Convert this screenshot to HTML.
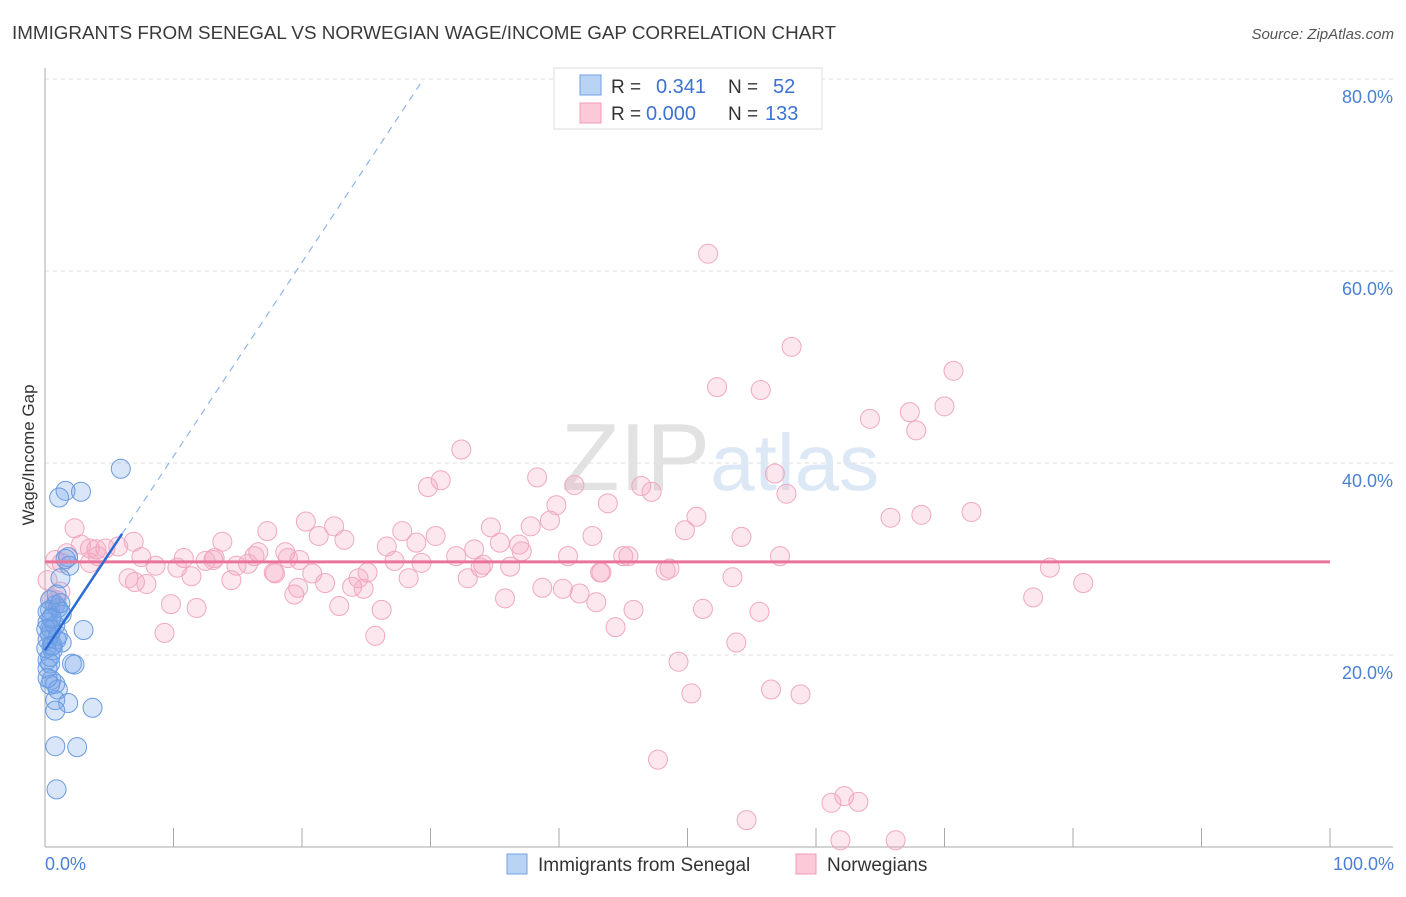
<!DOCTYPE html>
<html><head><meta charset="utf-8"><style>
body{margin:0;background:#fff;font-family:"Liberation Sans",sans-serif}
svg text{font-family:"Liberation Sans",sans-serif}
</style></head><body>
<svg width="1406" height="892" viewBox="0 0 1406 892">
<text x="12" y="39" font-size="18" fill="#3a3a3a" textLength="824" lengthAdjust="spacingAndGlyphs">IMMIGRANTS FROM SENEGAL VS NORWEGIAN WAGE/INCOME GAP CORRELATION CHART</text>
<text x="1394" y="39" font-size="15" fill="#555" font-style="italic" text-anchor="end">Source: ZipAtlas.com</text>
<g id="grid"></g>
<text x="720" y="490" font-size="96" fill="#e6e6e6" text-anchor="middle" font-family="Liberation Serif"><tspan fill="#e2e2e2">ZIP</tspan><tspan fill="#dce8f6" font-family="Liberation Sans" font-size="80">atlas</tspan></text>
<g id="axes"></g>
<g id="pink"></g>
<g id="blue"></g>
<g id="lines"></g>
<text transform="translate(34,455) rotate(-90)" font-size="17" fill="#333" text-anchor="middle">Wage/Income Gap</text>
<text x="45" y="870" font-size="18" fill="#4a7fd6">0.0%</text>
<text x="1394" y="870" font-size="18" fill="#4a7fd6" text-anchor="end">100.0%</text>
<g>
<rect x="554" y="68" width="268" height="61" fill="#fff" stroke="#ddd"/>
<rect x="580" y="75" width="21" height="20" fill="#b9d3f5" stroke="#6f9fe0"/>
<rect x="580" y="103" width="21" height="20" fill="#fcc9d8" stroke="#f09ab6"/>
<text x="611" y="93" font-size="19" fill="#333">R = </text><text x="656" y="93" font-size="20" fill="#3b72d1">0.341</text>
<text x="728" y="93" font-size="19" fill="#333">N = </text><text x="773" y="93" font-size="20" fill="#3b72d1">52</text>
<text x="611" y="120" font-size="19" fill="#333">R = </text><text x="646" y="120" font-size="20" fill="#3b72d1">0.000</text>
<text x="728" y="120" font-size="19" fill="#333">N = </text><text x="765" y="120" font-size="20" fill="#3b72d1">133</text>
</g>
<g>
<rect x="507" y="854" width="20" height="20" fill="#b9d3f5" stroke="#6f9fe0"/>
<text x="538" y="871" font-size="19" fill="#333">Immigrants from Senegal</text>
<rect x="796" y="854" width="20" height="20" fill="#fcc9d8" stroke="#f09ab6"/>
<text x="827" y="871" font-size="19" fill="#333">Norwegians</text>
</g>
</svg>
<script>
const yTicks=[20,40,60,80];
const yTickLabels=["20.0%","40.0%","60.0%","80.0%"];
const xTicks=[0,10,20,30,40,50,60,70,80,90,100];
const blueX=[5.9,1.6,2.8,1.1,1.8,1.9,1.2,0.4,1.0,0.8,0.5,0.2,0.4,0.9,1.3,0.5,3.0,0.2,0.4,2.1,2.3,0.5,0.8,1.0,0.8,1.8,3.7,0.8,0.8,2.5,0.9,0.4,0.6,0.2,1.2,0.4,0.9,0.2,0.5,0.8,0.1,0.4,1.3,0.2,0.5,1.0,0.2,1.2,0.4,0.1,1.6,0.6];
const blueY=[39.4,37.1,37.0,36.4,30.2,29.3,28.0,24.7,24.9,25.2,23.9,23.4,22.1,21.6,21.3,20.9,22.6,19.5,19.1,19.1,19.0,17.4,17.0,16.4,15.3,15.0,14.5,14.2,10.5,10.4,6.0,22.8,20.5,18.6,24.5,25.7,26.3,21.6,22.6,23.1,20.7,16.9,24.2,24.5,23.8,22.0,17.6,25.4,19.8,22.7,30.0,21.0];
const pinkX=[51.6,58.1,70.7,52.3,55.7,67.3,70.0,64.2,67.8,32.4,56.8,30.8,38.3,29.8,41.2,46.4,47.2,57.7,43.8,39.8,65.8,68.2,72.1,50.7,49.8,20.3,22.5,39.3,37.8,34.7,27.8,2.3,17.3,21.3,23.3,30.4,42.6,54.2,13.8,2.8,5.7,6.9,4.7,4.0,26.6,28.9,33.4,35.4,36.9,37.1,4.1,1.7,7.5,10.8,13.1,13.2,16.6,16.3,18.7,18.9,19.8,32.0,40.7,45.0,45.4,57.2,1.3,3.5,8.6,10.3,14.9,15.8,12.5,27.2,29.3,34.1,36.2,25.1,43.2,48.6,48.3,33.9,6.5,7.0,7.9,11.4,14.5,17.9,20.8,21.8,23.9,24.4,24.8,28.3,32.9,17.8,38.7,40.3,41.6,43.3,53.5,78.2,80.8,19.7,19.4,22.9,26.2,35.8,42.9,9.8,11.8,45.8,51.2,55.6,76.9,44.4,9.3,25.7,53.8,49.3,56.5,50.3,58.8,47.7,61.2,62.2,63.3,54.6,61.9,66.2,1.2,0.9,0.5,0.8,0.2,3.5];
const pinkY=[61.8,52.1,49.6,47.9,47.6,45.3,45.9,44.6,43.4,41.4,38.9,38.2,38.5,37.5,37.7,37.6,37.0,36.8,35.8,35.6,34.3,34.6,34.9,34.4,33.0,33.9,33.4,34.0,33.4,33.3,32.9,33.2,32.9,32.4,32.0,32.4,32.4,32.3,31.8,31.5,31.3,31.8,31.1,31.0,31.3,31.7,31.0,31.7,31.5,30.8,30.3,30.6,30.2,30.1,29.9,30.1,30.7,30.3,30.7,30.1,29.9,30.3,30.3,30.3,30.3,30.3,29.6,29.6,29.3,29.1,29.3,29.5,29.8,29.8,29.6,29.4,29.2,28.6,28.6,29.0,28.8,29.1,28.0,27.6,27.4,28.2,27.8,28.5,28.5,27.5,27.1,28.0,26.9,28.0,28.0,28.6,27.0,26.9,26.4,28.6,28.1,29.1,27.5,27.0,26.3,25.1,24.7,25.9,25.5,25.3,24.9,24.7,24.8,24.5,26.0,22.9,22.3,22.0,21.3,19.3,16.4,16.0,15.9,9.1,4.6,5.3,4.7,2.8,0.7,0.7,26.6,25.7,25.9,29.9,27.8,31.1];
const blueTrend={x0:0,x1:6,xd:29.2,int:20.5,slope:2.02};
const pinkLevel=29.7;
const NS="http://www.w3.org/2000/svg";
const X=v=>45+v*12.85, Y=v=>847-v*9.6;
function mk(t,a,p){const e=document.createElementNS(NS,t);for(const k in a)e.setAttribute(k,a[k]);p.appendChild(e);return e;}
const grid=document.getElementById('grid'),axes=document.getElementById('axes');
yTicks.forEach((t,i)=>{
 const l=mk('line',{x1:45,x2:1393,y1:Y(t),y2:Y(t),stroke:'#dcdcdc','stroke-dasharray':'4,4'},grid);
 
 
 const tx=mk('text',{x:1393,y:Y(t)+24,'font-size':18,fill:'#4a7fd6','text-anchor':'end'},grid);
 tx.textContent=yTickLabels[i];
 
 
});
mk('line',{x1:45,x2:45,y1:68,y2:847,stroke:'#aaa'},axes);
mk('line',{x1:45,x2:1393,y1:847,y2:847,stroke:'#aaa'},axes);
xTicks.forEach(t=>{const l=mk('line',{x1:X(t),x2:X(t),y1:828,y2:847,stroke:'#aaa'},axes);
 
 });
const pg=document.getElementById('pink');
pinkX.forEach((v,i)=>{const c=mk('circle',{cx:X(v),cy:Y(pinkY[i]),r:9.5,fill:'rgba(244,160,188,0.25)',stroke:'#f0a8c0','stroke-width':1},pg);
 
 });
const bg=document.getElementById('blue');
blueX.forEach((v,i)=>{const c=mk('circle',{cx:X(v),cy:Y(blueY[i]),r:9.5,fill:'rgba(120,165,235,0.28)',stroke:'#6a9ae0','stroke-width':1},bg);
 
 });
const lg=document.getElementById('lines');
const pl=mk('line',{x1:X(0),x2:X(100),y1:Y(pinkLevel),y2:Y(pinkLevel),stroke:'#e8749b','stroke-width':3},lg);


const bt=blueTrend,f=x=>bt.int+bt.slope*x;
const bd=mk('line',{x1:X(bt.x1),x2:X(bt.xd),y1:Y(f(bt.x1)),y2:Y(f(bt.xd)),stroke:'#8fb4e8','stroke-width':1.2,'stroke-dasharray':'7,6'},lg);


const bs=mk('line',{x1:X(bt.x0),x2:X(bt.x1),y1:Y(f(bt.x0)),y2:Y(f(bt.x1)),stroke:'#2a6bd6','stroke-width':2.5},lg);


</script>
</body></html>
